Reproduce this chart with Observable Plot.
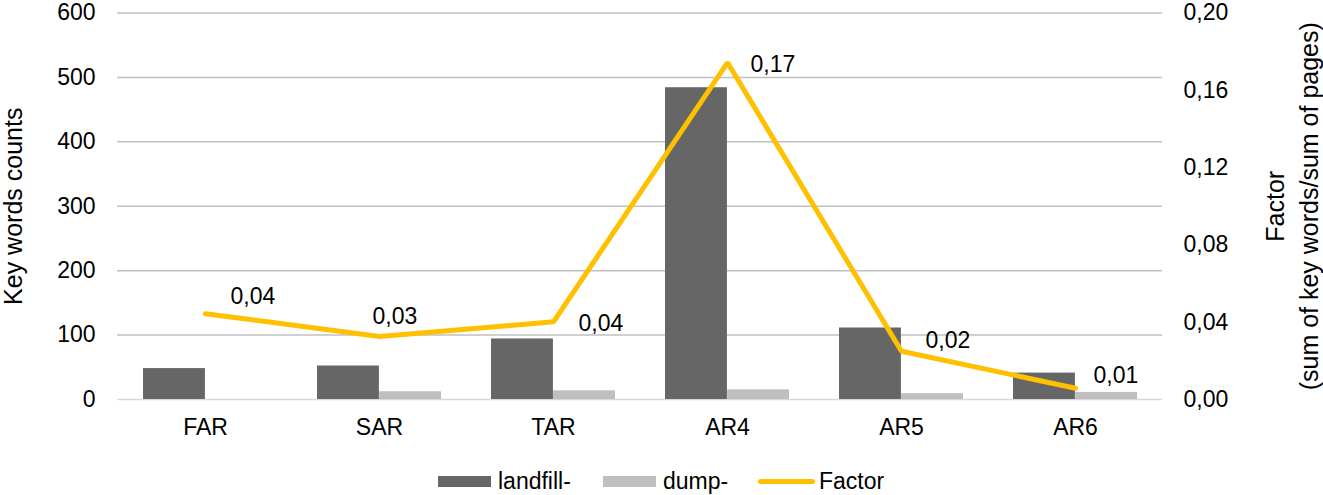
<!DOCTYPE html>
<html><head><meta charset="utf-8">
<script src="https://cdn.jsdelivr.net/npm/d3@7"></script>
<script src="https://cdn.jsdelivr.net/npm/@observablehq/plot@0.6"></script>
<style>
body{margin:0;background:#fff;font-family:"Liberation Sans",Arial,sans-serif;}
#chart svg{display:block;}
#legend{position:relative;height:45px;width:1323px;font-size:23px;color:#000;}
.item{position:absolute;top:0;height:62px;display:flex;align-items:center;}
.sw{display:inline-block;width:53px;height:11px;margin-right:7px;}
.ln{display:inline-block;width:57px;height:5px;border-radius:3px;margin-right:4px;}
</style></head><body>
<div id="chart"></div>
<div id="legend"></div>
<script>
const categories = ["FAR", "SAR", "TAR", "AR4", "AR5", "AR6"];
const landfill = [48, 52, 94, 484, 111, 41];
const dump = [0, 12, 13.5, 15, 9, 11];
const factor = [0.0444, 0.0326, 0.0402, 0.1743, 0.025, 0.0058];
const factorLabels = ["0,04", "0,03", "0,04", "0,17", "0,02", "0,01"];
const leftTicks = [0, 100, 200, 300, 400, 500, 600];
const rightTicks = [0, 0.04, 0.08, 0.12, 0.16, 0.20];
const seriesNames = ["landfill-", "dump-", "Factor"];
const seriesColors = ["#666666", "#bfbfbf", "#FFC000"];

// label offsets (style only)
const labelNudge = {FAR: [25, -17], SAR: [-7, -20], TAR: [25, 2], AR4: [23, 2], AR5: [24, -11], AR6: [18, -13]};

const ratio = 600 / 0.20;
const rows = categories.map((c, i) => ({cat: c, landfill: landfill[i], dump: dump[i], factor: factor[i], label: factorLabels[i]}));

const W = 1323, H = 450, ML = 117, MR = 161, MT = 12.5, MB = 51;
const bw = (W - ML - MR) / categories.length;
const outer = 25;

const labelMarks = rows.map(r => Plot.text([r], {
  x: "cat", y: d => d.factor * ratio, text: "label",
  textAnchor: "start", lineAnchor: "middle",
  dx: labelNudge[r.cat][0], dy: labelNudge[r.cat][1],
  fontSize: 23, fill: "#000"
}));

const chart = Plot.plot({
  width: W, height: H,
  marginLeft: ML, marginRight: MR, marginTop: MT, marginBottom: MB,
  style: {fontFamily: '"Liberation Sans", Arial, sans-serif', fontSize: "23px", color: "#000", background: "#fff", overflow: "visible"},
  x: {domain: categories, type: "band", padding: 0, label: null},
  y: {domain: [0, 600], label: null},
  marks: [
    Plot.gridY(leftTicks.filter(t => t > 0), {stroke: "#c0c0c0", strokeOpacity: 1, strokeWidth: 1.5}),
    Plot.ruleY([0], {stroke: "#d9d9d9", strokeWidth: 1.5}),
    Plot.barY(rows, {x: "cat", y: "landfill", fill: seriesColors[0], insetLeft: outer, insetRight: bw / 2}),
    Plot.barY(rows, {x: "cat", y: "dump", fill: seriesColors[1], insetLeft: bw / 2, insetRight: outer}),
    Plot.line(rows, {x: "cat", y: d => d.factor * ratio, stroke: seriesColors[2], strokeWidth: 5, strokeLinejoin: "miter", strokeLinecap: "round"}),
    ...labelMarks,
    Plot.axisY({ticks: leftTicks, tickSize: 0, tickPadding: 22, label: null, fontSize: 23}),
    Plot.axisY({anchor: "right", ticks: rightTicks.map(v => v * ratio), tickFormat: d => (d / ratio).toFixed(2).replace(".", ","), tickSize: 0, tickPadding: 21, label: null, fontSize: 23}),
    Plot.axisX({tickSize: 0, tickPadding: 19, label: null, fontSize: 23}),
    Plot.text(["Key words counts"], {text: d => d, frameAnchor: "left", rotate: -90, dx: -104, fontSize: 25, lineAnchor: "middle", textAnchor: "middle"}),
    Plot.text(["Factor\n(sum of key words/sum of pages)"], {text: d => d, frameAnchor: "right", rotate: -90, dx: 128, fontSize: 25, lineHeight: 1.35, lineAnchor: "middle", textAnchor: "middle"})
  ]
});
document.getElementById("chart").appendChild(chart);

const legend = document.getElementById("legend");
const lefts = [438, 603, 758];
seriesNames.forEach((name, i) => {
  const it = document.createElement("div");
  it.className = "item";
  it.style.left = lefts[i] + "px";
  const sw = document.createElement("span");
  sw.className = i === 2 ? "ln" : "sw";
  sw.style.background = seriesColors[i];
  it.appendChild(sw);
  const t = document.createElement("span");
  t.textContent = name;
  it.appendChild(t);
  legend.appendChild(it);
});
</script>
</body></html>
